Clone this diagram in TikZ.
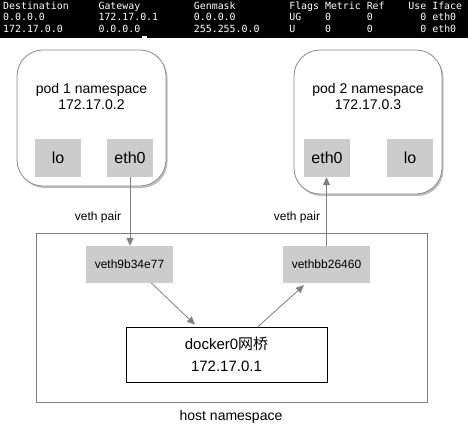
\documentclass[tikz,border=0pt]{standalone}
\usepackage{fontspec}
\setmainfont{Liberation Sans}
\setmonofont{DejaVu Sans Mono}
\newfontfamily\cjk{Noto Sans CJK SC}
\usetikzlibrary{arrows.meta,shadows,calc}
\definecolor{boxgray}{HTML}{CCCCCC}
\definecolor{linegray}{HTML}{808080}
\definecolor{podgray}{HTML}{8A8A8A}
\begin{document}
\begin{tikzpicture}[x=1pt,y=-1pt,
  pod/.style={draw=podgray, rounded corners=26pt, line width=0.8pt, fill=white,
    drop shadow={shadow xshift=1.5pt, shadow yshift=-2pt, opacity=0.25, fill=black},
    inner sep=0, minimum width=#1},
  iface/.style={fill=boxgray, draw=none, inner sep=0, minimum width=46pt, minimum height=38pt,
    font=\fontsize{16}{18}\selectfont},
  vethbox/.style={fill=boxgray, draw=none, inner sep=0, minimum width=87pt, minimum height=37pt,
    font=\fontsize{12}{14}\selectfont},
  lbl/.style={inner sep=0, align=center},
  tbl/.style={anchor=base west, inner sep=0, text=white, font=\ttfamily\fontsize{9.9}{11}\selectfont},
  arr/.style={draw=linegray, line width=0.8pt, -{Triangle[width=7pt,length=8pt,fill=linegray]}},
  conn/.style={draw=linegray, line width=0.8pt}]
\useasboundingbox (0,0) rectangle (468,429);
\fill[white] (0,0) rectangle (468,429);
% route table band
\fill[black] (0,0) rectangle (468,38);
\node[tbl] (hdr) at (3,9) {Destination~~~~~Gateway~~~~~~~~~Genmask~~~~~~~~~Flags~Metric~Ref~~~~Use~Iface};
\node[tbl] (row1) at (3,20.7) {0.0.0.0~~~~~~~~~172.17.0.1~~~~~~0.0.0.0~~~~~~~~~UG~~~~0~~~~~~0~~~~~~~~0~eth0};
\node[tbl] (row2) at (3,32.4) {172.17.0.0~~~~~~0.0.0.0~~~~~~~~~255.255.0.0~~~~~U~~~~~0~~~~~~0~~~~~~~~0~eth0};
\fill[white] (142,36) rectangle (147,38);
% pods
\node[pod=149pt, minimum height=136pt] (pod1) at (91.5,118) {};
\node[pod=148pt, minimum height=144pt] (pod2) at (368,122) {};
\node[lbl, font=\fontsize{14}{16}\selectfont] (pod1label) at (91.5,96) {pod 1 namespace\\172.17.0.2};
\node[lbl, font=\fontsize{14}{16}\selectfont] (pod2label) at (368,96) {pod 2 namespace\\172.17.0.3};
\node[iface] (lo1) at (58,158) {lo};
\node[iface] (eth1) at (130,158) {eth0};
\node[iface] (eth2) at (327,158) {eth0};
\node[iface] (lo2) at (410,158) {lo};
% host namespace
\node[draw=linegray, line width=0.8pt, inner sep=0, minimum width=391pt, minimum height=169pt] (host) at (231.5,317.5) {};
\node[lbl, font=\fontsize{14}{16}\selectfont] (hostlabel) at (231,417) {host namespace};
\node[vethbox] (v1) at (129.5,264.5) {veth9b34e77};
\node[vethbox] (v2) at (326.5,264.5) {vethbb26460};
\node[draw=black, line width=0.8pt, fill=white, inner sep=0, minimum width=201pt, minimum height=55pt,
  align=center, font=\fontsize{15}{22}\selectfont] (docker) at (226.5,354.5) {docker0{\cjk 网桥}\\172.17.0.1};
% veth pair labels
\node[lbl, font=\fontsize{12}{14}\selectfont] (vp1) at (98,217) {veth pair};
\node[lbl, font=\fontsize{12}{14}\selectfont] (vp2) at (297,217) {veth pair};
% connectors
\draw[arr] (eth1.south) -- (eth1.south |- v1.north);
\draw[arr] (v2.north) -- (v2.north |- eth2.south);
\draw[arr] ($(v1.south)+(22,0)$) -- ($(docker.north)+(-31.5,-2)$);
\draw[arr] ($(docker.north)+(31.5,0)$) -- ($(v2.south)+(-22.5,2)$);
\end{tikzpicture}
\end{document}
